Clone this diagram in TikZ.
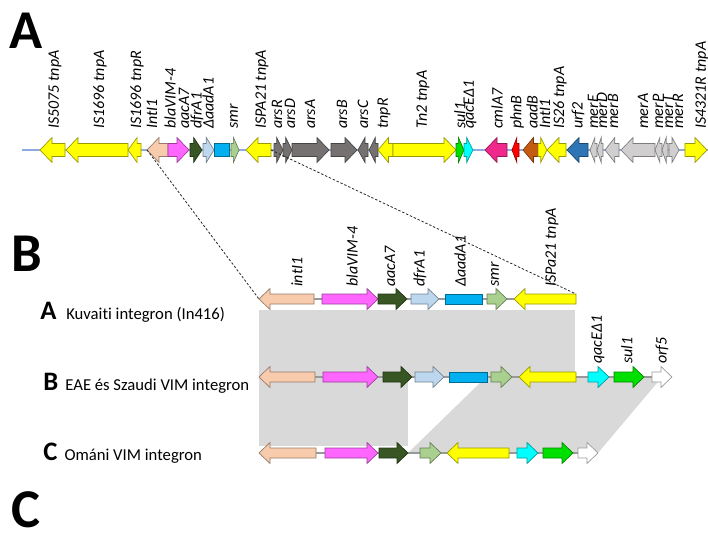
\documentclass[tikz,border=0pt]{standalone}
\usepackage{fontspec}
\setmainfont{Carlito}[Ligatures=NoCommon]
\usetikzlibrary{positioning}
\definecolor{isyellow}{RGB}{255,255,0}
\definecolor{intpeach}{RGB}{248,203,173}
\definecolor{vimpink}{RGB}{255,102,255}
\definecolor{aacgreen}{RGB}{55,86,35}
\definecolor{dfrblue}{RGB}{189,215,238}
\definecolor{aadblue}{RGB}{0,176,240}
\definecolor{smrgreen}{RGB}{169,208,142}
\definecolor{arsgray}{RGB}{118,113,113}
\definecolor{sulgreen}{RGB}{0,224,0}
\definecolor{qaccyan}{RGB}{0,255,255}
\definecolor{cmlpink}{RGB}{240,40,140}
\definecolor{phnred}{RGB}{255,0,0}
\definecolor{aadbrown}{RGB}{197,90,17}
\definecolor{urfblue}{RGB}{46,117,182}
\definecolor{mergray}{RGB}{208,206,206}
\definecolor{shade}{RGB}{217,217,217}
\definecolor{trackblue}{RGB}{143,170,220}
\tikzset{
  gene/.style={draw=#1!60!black,fill=#1,line width=0.5pt},
  track/.style={trackblue,line width=0.8pt},
  backbone/.style={black!40,line width=0.8pt},
  homology/.style={fill=shade,draw=none},
  zoomline/.style={black!85,line width=0.6pt,dash pattern=on 1.8pt off 1.4pt},
  glab/.style={font=\fontsize{12}{12}\selectfont\itshape,rotate=90,anchor=west,inner sep=0pt},
  panel/.style={font=\fontsize{41}{41}\selectfont\bfseries,anchor=base west,inner sep=0pt,text depth=0pt},
  rowletter/.style={font=\fontsize{20}{20}\selectfont\bfseries,anchor=base west,inner sep=0pt},
  rowname/.style={font=\fontsize{12.5}{12.5}\selectfont,anchor=base west,inner sep=0pt},
}
% gene arrows: name, from, to, row, colour
\newcommand{\gR}[5]{%
  \pgfmathsetmacro{\gtip}{min(\glen,0.7*(#3-#2))}
  \draw[gene=#5] (#2,#4-\gshaft) -- (#3-\gtip,#4-\gshaft) -- (#3-\gtip,#4-\ghead) -- (#3,#4)
    -- (#3-\gtip,#4+\ghead) -- (#3-\gtip,#4+\gshaft) -- (#2,#4+\gshaft) -- cycle;
  \coordinate (#1-l) at (#2,#4); \coordinate (#1-r) at (#3,#4);
  \coordinate (#1-tr) at (#3,#4-\gshaft);}
\newcommand{\gL}[5]{%
  \pgfmathsetmacro{\gtip}{min(\glen,0.7*(#3-#2))}
  \draw[gene=#5] (#3,#4-\gshaft) -- (#2+\gtip,#4-\gshaft) -- (#2+\gtip,#4-\ghead) -- (#2,#4)
    -- (#2+\gtip,#4+\ghead) -- (#2+\gtip,#4+\gshaft) -- (#3,#4+\gshaft) -- cycle;
  \coordinate (#1-l) at (#2,#4); \coordinate (#1-r) at (#3,#4);
  \coordinate (#1-tr) at (#3,#4-\gshaft);}
\newcommand{\gB}[5]{%
  \draw[gene=#5] (#2,#4-\gshaft) rectangle (#3,#4+\gshaft);
  \coordinate (#1-l) at (#2,#4); \coordinate (#1-r) at (#3,#4);
  \coordinate (#1-tr) at (#3,#4-\gshaft);}
\begin{document}
\begin{tikzpicture}[x=0.75pt,y=-0.75pt]
  \useasboundingbox (0,0) rectangle (708,539);
  \node[panel] (pA) at (9,48) {A};
  \node[panel] (pB) at (11,271) {B};
  \node[panel] (pC) at (11,527) {C};

  % A: the whole region
  \coordinate (trackL) at (22,150);
  \coordinate (trackR) at (708,150);
  \draw[track] (trackL) -- (trackR);
  \def\gshaft{6.5}\def\ghead{12.5}\def\glen{12}
  \gL{aIS5075}{40}{65}{150}{isyellow}
  \gL{aIS1696A}{66}{128}{150}{isyellow}
  \gL{aIS1696R}{128}{141}{150}{isyellow}
  \gL{aIntI1}{147}{168}{150}{intpeach}
  \gR{aVIM}{168}{189}{150}{vimpink}
  \gR{aAacA7}{190}{202}{150}{aacgreen}
  \gR{aDfrA1}{203}{214}{150}{dfrblue}
  \gB{aAadA1}{214}{229}{150}{aadblue}
  \gR{aSmr}{231}{239}{150}{smrgreen}
  \gL{aISPA21}{246}{271}{150}{isyellow}
  \gR{aArsR}{274}{283}{150}{arsgray}
  \gR{aArsD}{283}{292}{150}{arsgray}
  \gR{aArsA}{292}{329}{150}{arsgray}
  \gR{aArsB}{331}{357}{150}{arsgray}
  \gL{aArsC}{358}{368}{150}{arsgray}
  \gL{aArsX}{369}{378}{150}{arsgray}
  \gL{aTnpR}{378}{393}{150}{isyellow}
  \gR{aTn2}{393}{456}{150}{isyellow}
  \gR{aSul1}{456}{464}{150}{sulgreen}
  \gR{aQacE}{464}{473}{150}{qaccyan}
  \gL{aCmlA7}{485}{507}{150}{cmlpink}
  \gL{aPhnB}{512}{519}{150}{phnred}
  \gL{aAadB}{523}{538}{150}{aadbrown}
  \gR{aIntI1b}{538}{547}{150}{isyellow}
  \gL{aIS26}{547}{566}{150}{isyellow}
  \gL{aUrf2}{567}{588}{150}{urfblue}
  \gL{aMerE}{590}{597}{150}{mergray}
  \gL{aMerD}{597}{603}{150}{mergray}
  \gL{aMerB}{605}{619}{150}{mergray}
  \gL{aMerA}{621}{655}{150}{mergray}
  \gL{aMerP}{655}{662}{150}{mergray}
  \gL{aMerT}{662}{668}{150}{mergray}
  \gR{aMerR}{669}{679}{150}{mergray}
  \gR{aIS4321}{685}{707}{150}{isyellow}
  \foreach \x/\t in {55/IS5075 tnpA, 100/IS1696 tnpA, 137/IS1696 tnpR, 152/IntI1,
      170/blaVIM-4, 184/aacA7, 197/dfrA1, 208/ΔaadA1, 234/smr, 262/ISPA21 tnpA,
      277/arsR, 290/arsD, 310/arsA, 342/arsB, 363/arsC, 384/tnpR, 423/Tn2 tnpA,
      460/sul1, 470/qacEΔ1, 497/cmlA7, 517/phnB, 532/aadB, 545/IntI1, 560/IS26 tnpA,
      578/urf2, 593/merE, 602/merD, 613/merB, 643/merA, 658/merP, 668/merT, 678/merR,
      702/IS4321R tnpA}
    \node[glab] (la\x) at (\x,129) {\t};

  % B: integron comparison
  \fill[homology] (259,310) rectangle (575,377);
  \fill[homology] (259,377) rectangle (408,446);
  \fill[homology] (486,377) -- (662,377) -- (598,453) -- (408,453) -- cycle;
  \node[rowletter] (rA) at (40,319) {A};
  \node[rowname, right=7pt of rA.base east, anchor=base west] (nA) {Kuvaiti integron (In416)};
  \node[rowletter] (rB) at (43,390) {B};
  \node[rowname, right=5pt of rB.base east, anchor=base west] (nB) {EAE és Szaudi VIM integron};
  \node[rowletter] (rC) at (43,460) {C};
  \node[rowname, right=5pt of rC.base east, anchor=base west] (nC) {Ománi VIM integron};

  \def\gshaft{5}\def\ghead{10.5}\def\glen{11}
  \coordinate (bAL) at (259,299); \coordinate (bAR) at (576,299);
  \coordinate (bBL) at (259,377); \coordinate (bBR) at (672,377);
  \coordinate (bCL) at (259,453); \coordinate (bCR) at (598,453);
  \draw[backbone] (bAL) -- (bAR);
  \draw[backbone] (bBL) -- (bBR);
  \draw[backbone] (bCL) -- (bCR);
  \gL{bA-int}{259}{314}{299}{intpeach}
  \gR{bA-vim}{322}{378}{299}{vimpink}
  \gR{bA-aac}{378}{407}{299}{aacgreen}
  \gR{bA-dfr}{411}{439}{299}{dfrblue}
  \gB{bA-aad}{445}{482}{299}{aadblue}
  \gR{bA-smr}{487}{507}{299}{smrgreen}
  \gL{bA-isp}{514}{576}{299}{isyellow}
  \gL{bB-int}{259}{315}{377}{intpeach}
  \gR{bB-vim}{323}{378}{377}{vimpink}
  \gR{bB-aac}{383}{412}{377}{aacgreen}
  \gR{bB-dfr}{415}{444}{377}{dfrblue}
  \gB{bB-aad}{449}{487}{377}{aadblue}
  \gR{bB-smr}{491}{512}{377}{smrgreen}
  \gL{bB-isp}{519}{576}{377}{isyellow}
  \gR{bB-qac}{588}{609}{377}{qaccyan}
  \gR{bB-sul}{614}{644}{377}{sulgreen}
  \gR{bB-orf}{652}{672}{377}{white}
  \gL{bC-int}{259}{316}{453}{intpeach}
  \gR{bC-vim}{325}{378}{453}{vimpink}
  \gR{bC-aac}{379}{408}{453}{aacgreen}
  \gR{bC-smr}{420}{441}{453}{smrgreen}
  \gL{bC-isp}{447}{509}{453}{isyellow}
  \gR{bC-qac}{517}{538}{453}{qaccyan}
  \gR{bC-sul}{543}{573}{453}{sulgreen}
  \gR{bC-orf}{578}{598}{453}{white}
  \foreach \x/\t in {297/intI1, 352/blaVIM-4, 390/aacA7, 420/dfrA1, 460/ΔaadA1,
      495/smr, 552/ISPa21 tnpA}
    \node[glab] (lb\x) at (\x,287) {\t};
  \foreach \x/\t in {598/qacEΔ1, 627/sul1, 662/orf5}
    \node[glab] (lc\x) at (\x,364) {\t};

  % zoom from A to B
  \draw[zoomline] (aIntI1-l) -- (bA-int-l);
  \draw[zoomline] (aISPA21-r) -- (bA-isp-tr);
\end{tikzpicture}
\end{document}
